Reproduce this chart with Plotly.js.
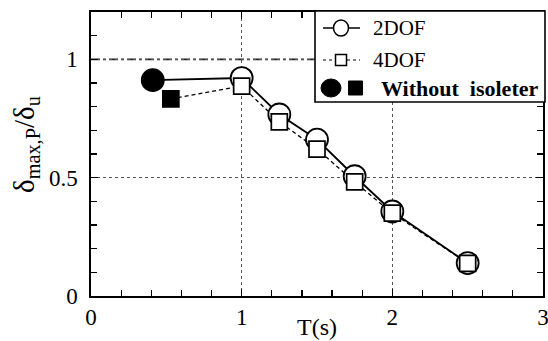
<!DOCTYPE html>
<html>
<head>
<meta charset="utf-8">
<script src="https://cdn.plot.ly/plotly-3.0.1.min.js"></script>
<style>html,body{margin:0;padding:0;background:#fff;}#chart{width:548px;height:341px;}</style>
</head>
<body>
<div id="chart"></div>
<script>
// Data
var periods2 = [0.41, 1.0, 1.25, 1.5, 1.75, 2.0, 2.5];
var ratio2DOF = [0.912, 0.921, 0.767, 0.661, 0.506, 0.357, 0.139];
var periods4 = [0.53, 1.0, 1.25, 1.5, 1.75, 2.0, 2.5];
var ratio4DOF = [0.833, 0.887, 0.736, 0.621, 0.482, 0.350, 0.138];
var fill2 = ['black', 'white', 'white', 'white', 'white', 'white', 'white'];
var fill4 = ['black', 'white', 'white', 'white', 'white', 'white', 'white'];
var legendLabels = ['2DOF', '4DOF', 'Without&nbsp;&nbsp;isoleter'];

var W = 548, H = 341, L = 91, R = 5, T = 12, B = 45;
var pw = W - L - R, ph = H - T - B;
function px(x) { return (x - L) / pw; }
function py(y) { return (H - B - y) / ph; }

var FONT = '"Times New Roman", "Liberation Serif", "DejaVu Serif", serif';

var traces = [
  {
    x: periods2, y: ratio2DOF, type: 'scatter', mode: 'lines+markers', name: '2DOF',
    line: {color: 'black', width: 1.8},
    marker: {symbol: 'circle', size: 22, color: fill2, line: {color: 'black', width: 1.8}},
    showlegend: false, cliponaxis: false
  },
  {
    x: periods4, y: ratio4DOF, type: 'scatter', mode: 'lines+markers', name: '4DOF',
    line: {color: 'black', width: 1.3, dash: '4px,3px'},
    marker: {symbol: 'square', size: 16, color: fill4, line: {color: 'black', width: 1.7}},
    showlegend: false, cliponaxis: false
  }
];

var lgL = 315, lgR = 545, lgT = 11, lgB = 102;
var rows = [28, 60, 88];

var shapes = [
  {type: 'line', xref: 'paper', yref: 'y', x0: 0, x1: 1, y0: 1, y1: 1,
   line: {color: '#222', width: 1.6, dash: 'dashdot'}, layer: 'below'},
  {type: 'rect', xref: 'paper', yref: 'paper', x0: px(lgL), x1: px(lgR), y0: py(lgB), y1: py(lgT),
   fillcolor: 'white', line: {color: 'black', width: 1.6}, layer: 'above'},
  {type: 'line', xref: 'paper', yref: 'paper', x0: px(323), x1: px(360), y0: py(rows[0]), y1: py(rows[0]),
   line: {color: 'black', width: 1.4}, layer: 'above'},
  {type: 'circle', xref: 'paper', yref: 'paper', xsizemode: 'pixel', ysizemode: 'pixel',
   xanchor: px(341), yanchor: py(rows[0]), x0: -7.5, x1: 7.5, y0: -8, y1: 8,
   fillcolor: 'white', line: {color: 'black', width: 1.5}, layer: 'above'},
  {type: 'line', xref: 'paper', yref: 'paper', x0: px(323), x1: px(360), y0: py(rows[1]), y1: py(rows[1]),
   line: {color: 'black', width: 1.2, dash: '3px,3px'}, layer: 'above'},
  {type: 'rect', xref: 'paper', yref: 'paper', xsizemode: 'pixel', ysizemode: 'pixel',
   xanchor: px(341), yanchor: py(rows[1]), x0: -5.5, x1: 5.5, y0: -5.5, y1: 5.5,
   fillcolor: 'white', line: {color: 'black', width: 1.5}, layer: 'above'},
  {type: 'circle', xref: 'paper', yref: 'paper', xsizemode: 'pixel', ysizemode: 'pixel',
   xanchor: px(331), yanchor: py(rows[2]), x0: -10, x1: 10, y0: -9, y1: 9,
   fillcolor: 'black', line: {color: 'black', width: 1}, layer: 'above'},
  {type: 'rect', xref: 'paper', yref: 'paper', xsizemode: 'pixel', ysizemode: 'pixel',
   xanchor: px(355.5), yanchor: py(rows[2]), x0: -7, x1: 7, y0: -7, y1: 7,
   fillcolor: 'black', line: {color: 'black', width: 1}, layer: 'above'}
];

var annotations = [
  {text: legendLabels[0], xref: 'paper', yref: 'paper', x: px(371), y: py(rows[0]), xanchor: 'left', yanchor: 'middle',
   showarrow: false, font: {family: FONT, size: 21, color: 'black'}},
  {text: legendLabels[1], xref: 'paper', yref: 'paper', x: px(371), y: py(rows[1]), xanchor: 'left', yanchor: 'middle',
   showarrow: false, font: {family: FONT, size: 21, color: 'black'}},
  {text: '<b>' + legendLabels[2] + '</b>', xref: 'paper', yref: 'paper', x: px(379), y: py(rows[2]), xanchor: 'left', yanchor: 'middle',
   showarrow: false, font: {family: FONT, size: 22, color: 'black'}},
  {text: 'δ<sub>max,P</sub>/δ<sub>u</sub>', xref: 'paper', yref: 'paper', x: px(26), y: py(145),
   xanchor: 'center', yanchor: 'middle', textangle: -90, showarrow: false,
   font: {family: FONT, size: 29, color: 'black'}},
  {text: 'T(s)', xref: 'paper', yref: 'paper', x: px(317), y: py(341), xanchor: 'center', yanchor: 'bottom',
   showarrow: false, borderpad: 0, font: {family: FONT, size: 24, color: 'black'}}
];

var axisCommon = {
  showline: true, linecolor: 'black', linewidth: 1.6, mirror: 'ticks',
  ticks: 'inside', tickcolor: 'black', tickwidth: 1.2, ticklen: 7,
  showgrid: true, gridcolor: '#555', griddash: 'dot', gridwidth: 1,
  zeroline: false, fixedrange: true,
  ticklabeloverflow: 'allow',
  tickfont: {family: FONT, size: 23, color: 'black'}
};

var layout = {
  width: W, height: H,
  margin: {l: L, r: R, t: T, b: B, pad: 0},
  paper_bgcolor: 'white', plot_bgcolor: 'white',
  font: {family: FONT, color: 'black'},
  showlegend: false,
  xaxis: Object.assign({}, axisCommon, {
    range: [0, 3], dtick: 1, tick0: 0,
    minor: {dtick: 0.2, tick0: 0, ticks: 'inside', ticklen: 6, tickcolor: 'black', tickwidth: 1.2, showgrid: false}
  }),
  yaxis: Object.assign({}, axisCommon, {
    range: [0, 1.2], dtick: 0.5, tick0: 0, ticklabelstandoff: 7,
    minor: {dtick: 0.1, tick0: 0, ticks: 'inside', ticklen: 6, tickcolor: 'black', tickwidth: 1.2, showgrid: false}
  }),
  shapes: shapes,
  annotations: annotations
};

Plotly.newPlot('chart', traces, layout, {staticPlot: true, displayModeBar: false});
</script>
</body>
</html>
